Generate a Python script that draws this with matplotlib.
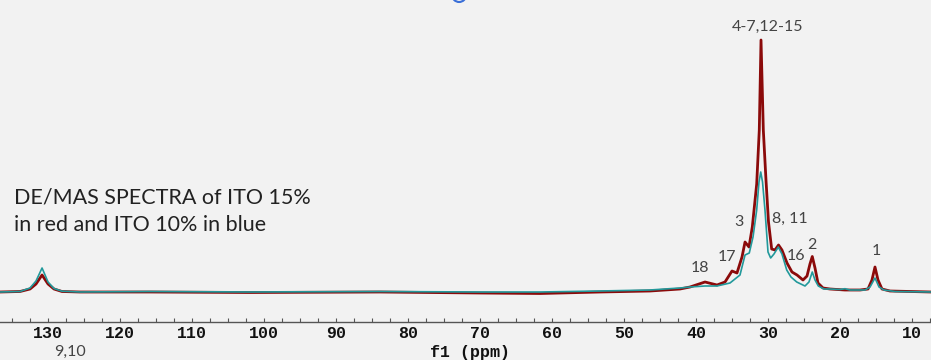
import matplotlib.pyplot as plt
from matplotlib.patches import Ellipse
from matplotlib.ticker import MultipleLocator

# spectra (ppm, intensity in arbitrary units)
red_ppm = [136.67, 133.89, 132.5, 131.67, 130.83, 130.0, 129.17, 128.06, 125.56,
           115.83, 101.94, 83.89, 70.0, 61.67, 53.33, 46.39, 42.22, 40.83,
           38.75, 37.08, 35.97, 35.0, 34.31, 33.61, 33.19, 32.64, 32.18, 31.57,
           31.21, 30.97, 30.65, 30.28, 29.93, 29.49, 29.03, 28.54, 28.06, 27.36,
           26.67, 25.97, 25.14, 24.58, 24.17, 23.85, 23.47, 23.06, 22.36, 21.39,
           19.31, 17.22, 16.11, 15.56, 15.14, 14.72, 14.17, 13.06, 7.36]
red_int = [0, 0.5, 3, 8, 17, 8, 3, 0.5, 0,
           0, -0.5, 0, -1, -1.5, 0, 1, 3, 5,
           10, 7, 10, 21, 19, 35, 50, 45, 65, 108,
           162, 252, 162, 112, 70, 43, 42, 47, 42, 29,
           20, 17, 12, 16, 28, 35.5, 24, 9, 4, 3,
           2, 2, 3, 12, 25, 12, 3, 1, 0]

blue_ppm = [136.67, 133.89, 132.5, 131.67, 130.83, 130.0, 129.17, 128.06, 125.56,
            115.83, 101.94, 83.89, 70.0, 61.67, 53.33, 46.39, 42.22, 40.83,
            38.75, 37.08, 35.28, 33.89, 33.19, 32.6, 32.08, 31.57, 31.25, 31.01,
            30.76, 30.42, 30.0, 29.63, 29.17, 28.57, 28.06, 27.4, 26.81, 26.01,
            24.86, 24.31, 23.85, 23.47, 23.01, 22.22, 21.39, 20.0, 19.31, 18.61,
            16.53, 15.83, 15.14, 14.58, 13.89, 12.36, 7.36]
blue_int = [0, 0.5, 4, 11, 24, 10, 3.5, 0.8, 0,
            0.5, 0, 0.5, 0, 0, 1, 2, 4, 5,
            6, 6, 9, 17, 37, 39, 55, 82, 110, 120,
            110, 82, 40, 34, 38, 45, 38, 22, 15, 10,
            6, 10, 20, 12, 6, 3, 3, 2.5, 3.3, 2,
            2, 5, 14, 5, 2, 0.5, 0]

peak_labels = ['4-7,12-15', '18', '17', '3', '8, 11', '16', '2', '1', '9,10']
label_ppm = [30.0, 39.44, 35.69, 34.03, 26.94, 26.11, 23.89, 15.0, 126.9]
label_y = [265, 24, 35, 70, 73, 36, 47, 41, -60]

tick_vals = [130, 120, 110, 100, 90, 80, 70, 60, 50, 40, 30, 20, 10]

bg = '#f2f2f2'
fig = plt.figure(figsize=(9.31, 3.6), dpi=100, facecolor=bg)
ax = fig.add_axes([0, 38 / 360, 1, 322 / 360], facecolor=bg)

ax.plot(red_ppm, red_int, color='#8b0a0a', lw=2.0, solid_joinstyle='round')
ax.plot(blue_ppm, blue_int, color='#22999b', lw=1.2, solid_joinstyle='round')

ax.set_xlim(136.67, 7.36)
ax.set_ylim(-30, 292)

for s in ['top', 'left', 'right']:
    ax.spines[s].set_visible(False)
ax.spines['bottom'].set_color('#555555')
ax.spines['bottom'].set_linewidth(1.0)
ax.set_yticks([])
ax.set_xticks(tick_vals)
ax.xaxis.set_minor_locator(MultipleLocator(2.5))
ax.tick_params(axis='x', which='both', direction='in', length=3, width=0.8,
               color='#555555', pad=3)
ax.set_xticklabels([str(v) for v in tick_vals], family='Liberation Mono',
                   weight='bold', fontsize=12, color='#111111')
ax.set_xlabel('f1 (ppm)', family='Liberation Mono', weight='bold',
              fontsize=12, color='#111111', va='center')
ax.xaxis.set_label_coords(0.505, -30 / 322)

for t, xp, yp in zip(peak_labels, label_ppm, label_y):
    ax.text(xp, yp, t, ha='center', va='center', fontsize=11.5,
            family='Lato', color='#444444', clip_on=False)

ax.text(134.72, 94, 'DE/MAS SPECTRA of ITO 15%', ha='left', va='center',
        fontsize=15.5, family='Lato', color='#222222')
ax.text(134.72, 67, 'in red and ITO 10% in blue', ha='left', va='center',
        fontsize=15.5, family='Lato', color='#222222')

ax.add_patch(Ellipse((72.9, 297), 1.94, 14, fill=False, ec='#3a6fd8',
                     lw=1.5, clip_on=False))

fig.savefig('out.png', dpi=100, facecolor=bg)
